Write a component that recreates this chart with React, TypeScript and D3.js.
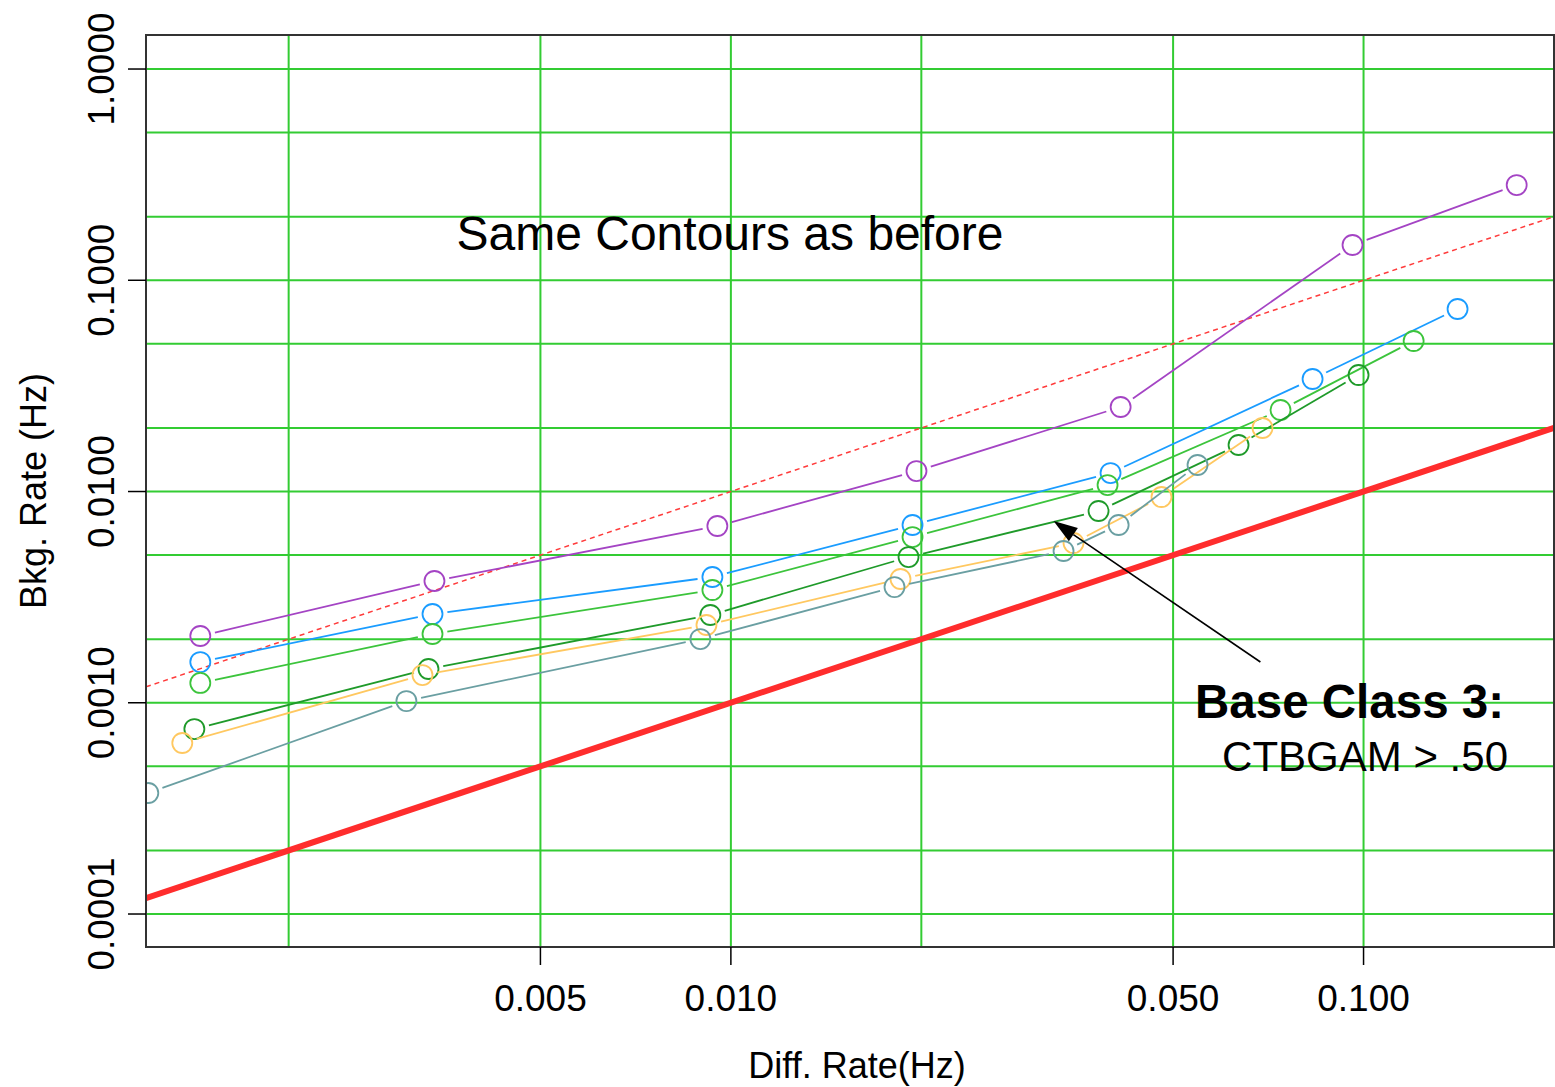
import React from "react";
import * as d3 from "d3";

// Diff. rate (x) and background rate (y) for each contour series, in Hz
const purpleDiff = [0.00145, 0.0034, 0.00952, 0.01965, 0.04131, 0.09607, 0.1746];
const purpleBkg = [0.00207, 0.00377, 0.006866, 0.0125, 0.02512, 0.1469, 0.2824];
const blueDiff = [0.00145, 0.003376, 0.00935, 0.01937, 0.03982, 0.08307, 0.1408];
const blueBkg = [0.001559, 0.002631, 0.003938, 0.006941, 0.01223, 0.03409, 0.0731];
const greenDiff = [0.00145, 0.003376, 0.00935, 0.01937, 0.03939, 0.07392, 0.12];
const greenBkg = [0.001241, 0.002116, 0.003418, 0.006089, 0.01073, 0.02431, 0.05158];
const darkGreenDiff = [0.001419, 0.003327, 0.00928, 0.01909, 0.03812, 0.06345, 0.0982];
const darkGreenBkg = [0.000751, 0.001445, 0.002603, 0.004896, 0.008085, 0.0166, 0.03561];
const orangeDiff = [0.001358, 0.003255, 0.00915, 0.01854, 0.0348, 0.04793, 0.06923];
const orangeBkg = [0.000645, 0.001353, 0.002334, 0.003853, 0.005705, 0.009418, 0.01998];
const tealDiff = [0.0012, 0.00307, 0.00895, 0.01814, 0.03356, 0.04101, 0.05465];
const tealBkg = [0.000374, 0.001019, 0.002003, 0.003531, 0.005228, 0.006941, 0.01335];

// Reference lines: bkg = ratio * diff
const solidRatio = 0.1;
const dashedRatio = 1;

// Axes
const xTicks = [0.005, 0.01, 0.05, 0.1];
const xTickLabels = ["0.005", "0.010", "0.050", "0.100"];
const xGrid = [0.002, 0.005, 0.01, 0.02, 0.05, 0.1, 0.2];
const yTicks = [1, 0.1, 0.01, 0.001, 0.0001];
const yTickLabels = ["1.0000", "0.1000", "0.0100", "0.0010", "0.0001"];
const yGrid = [1, 0.5, 0.2, 0.1, 0.05, 0.02, 0.01, 0.005, 0.002, 0.001, 0.0005, 0.0002, 0.0001];
const xDomain = [0.00119, 0.2];
const yDomain = [0.0000698, 1.449];

// Annotation arrow (data coordinates): tail, tip
const arrowTail = [0.0687, 0.00156];
const arrowTip = [0.03236, 0.00725];

const series = [
  { name: "purple", color: "#a444c4", xs: purpleDiff, ys: purpleBkg },
  { name: "blue", color: "#1a9cff", xs: blueDiff, ys: blueBkg },
  { name: "green", color: "#3cc43c", xs: greenDiff, ys: greenBkg },
  { name: "darkgreen", color: "#1f9a2a", xs: darkGreenDiff, ys: darkGreenBkg },
  { name: "orange", color: "#ffc860", xs: orangeDiff, ys: orangeBkg },
  { name: "teal", color: "#6a9fa2", xs: tealDiff, ys: tealBkg },
];

const W = 1555;
const H = 1087;
const left = 146;
const right = 1554;
const top = 35;
const bottom = 947;
const FONT = "'Liberation Sans', Arial, Helvetica, sans-serif";

export default function App() {
  const x = d3.scaleLog().domain(xDomain).range([left, right]);
  const y = d3.scaleLog().domain(yDomain).range([bottom, top]);
  const gap = 15;
  const r = 10;

  const segs = (xs: number[], ys: number[]) => {
    const out: string[] = [];
    for (let i = 0; i < xs.length - 1; i++) {
      const x1 = x(xs[i]), y1 = y(ys[i]);
      const x2 = x(xs[i + 1]), y2 = y(ys[i + 1]);
      const dx = x2 - x1, dy = y2 - y1;
      const len = Math.hypot(dx, dy);
      if (len <= gap * 2) continue;
      const ux = dx / len, uy = dy / len;
      const path = d3.path();
      path.moveTo(x1 + ux * gap, y1 + uy * gap);
      path.lineTo(x2 - ux * gap, y2 - uy * gap);
      out.push(path.toString());
    }
    return out;
  };

  const refLine = (ratio: number) =>
    d3.line<number>()
      .x((d) => x(d))
      .y((d) => y(d * ratio))(xDomain);

  const ax1 = x(arrowTail[0]), ay1 = y(arrowTail[1]);
  const ax2 = x(arrowTip[0]), ay2 = y(arrowTip[1]);
  const ang = Math.atan2(ay2 - ay1, ax2 - ax1);
  const headLen = 24, headW = 8;
  const bx = ax2 - Math.cos(ang) * headLen, by = ay2 - Math.sin(ang) * headLen;
  const head = [
    [ax2, ay2],
    [bx + Math.sin(ang) * headW, by - Math.cos(ang) * headW],
    [bx - Math.sin(ang) * headW, by + Math.cos(ang) * headW],
  ];

  return (
    <svg
      width={W}
      height={H}
      style={{ position: "absolute", left: 0, top: 0, background: "#fff" }}
      fontFamily={FONT}
    >
      <defs>
        <clipPath id="plotClip">
          <rect x={left} y={top} width={right - left} height={bottom - top} />
        </clipPath>
      </defs>
      <rect x={0} y={0} width={W} height={H} fill="#fff" />

      {/* grid */}
      <g stroke="#33cc33" strokeWidth={2}>
        {xGrid.map((v) => (
          <line key={"gx" + v} x1={x(v)} x2={x(v)} y1={top} y2={bottom} />
        ))}
        {yGrid.map((v) => (
          <line key={"gy" + v} x1={left} x2={right} y1={y(v)} y2={y(v)} />
        ))}
      </g>

      <g clipPath="url(#plotClip)">
        {/* reference lines */}
        <path d={refLine(dashedRatio) || ""} stroke="#ff3b3b" strokeWidth={1.5} strokeDasharray="5,4" fill="none" />
        <path d={refLine(solidRatio) || ""} stroke="#ff2d2d" strokeWidth={6} fill="none" />

        {series.map((s) => (
          <g key={s.name} stroke={s.color} fill="none" strokeWidth={1.8}>
            {segs(s.xs, s.ys).map((d, i) => (
              <path key={i} d={d} />
            ))}
            {s.xs.map((v, i) => (
              <circle key={"c" + i} cx={x(v)} cy={y(s.ys[i])} r={r} />
            ))}
          </g>
        ))}
      </g>

      {/* frame */}
      <rect x={left} y={top} width={right - left} height={bottom - top} fill="none" stroke="#333" strokeWidth={2} />

      {/* axis ticks */}
      <g stroke="#000" strokeWidth={1.5}>
        {yTicks.map((v) => (
          <line key={"yt" + v} x1={left - 18} x2={left} y1={y(v)} y2={y(v)} />
        ))}
        {xTicks.map((v) => (
          <line key={"xt" + v} x1={x(v)} x2={x(v)} y1={bottom} y2={bottom + 18} />
        ))}
      </g>
      {yTicks.map((v, i) => (
        <text
          key={"yl" + v}
          transform={`translate(${114},${y(v)}) rotate(-90)`}
          textAnchor="middle"
          fontSize={37}
          fill="#000"
        >
          {yTickLabels[i]}
        </text>
      ))}
      {xTicks.map((v, i) => (
        <text key={"xl" + v} x={x(v)} y={1011} textAnchor="middle" fontSize={37} fill="#000">
          {xTickLabels[i]}
        </text>
      ))}

      <text x={857} y={1078} textAnchor="middle" fontSize={36} fill="#000">
        Diff. Rate(Hz)
      </text>
      <text transform={`translate(46,491) rotate(-90)`} textAnchor="middle" fontSize={36} fill="#000">
        Bkg. Rate (Hz)
      </text>

      {/* annotations */}
      <text x={730} y={250} textAnchor="middle" fontSize={48} fill="#000">
        Same Contours as before
      </text>
      <line x1={ax1} y1={ay1} x2={bx} y2={by} stroke="#000" strokeWidth={1.6} />
      <polygon points={head.map((p) => p.join(",")).join(" ")} fill="#000" />
      <text x={1504} y={718} textAnchor="end" fontSize={47.5} fontWeight="bold" fill="#000">
        Base Class 3:
      </text>
      <text x={1508} y={771} textAnchor="end" fontSize={42} fill="#000">
        CTBGAM &gt; .50
      </text>
    </svg>
  );
}
